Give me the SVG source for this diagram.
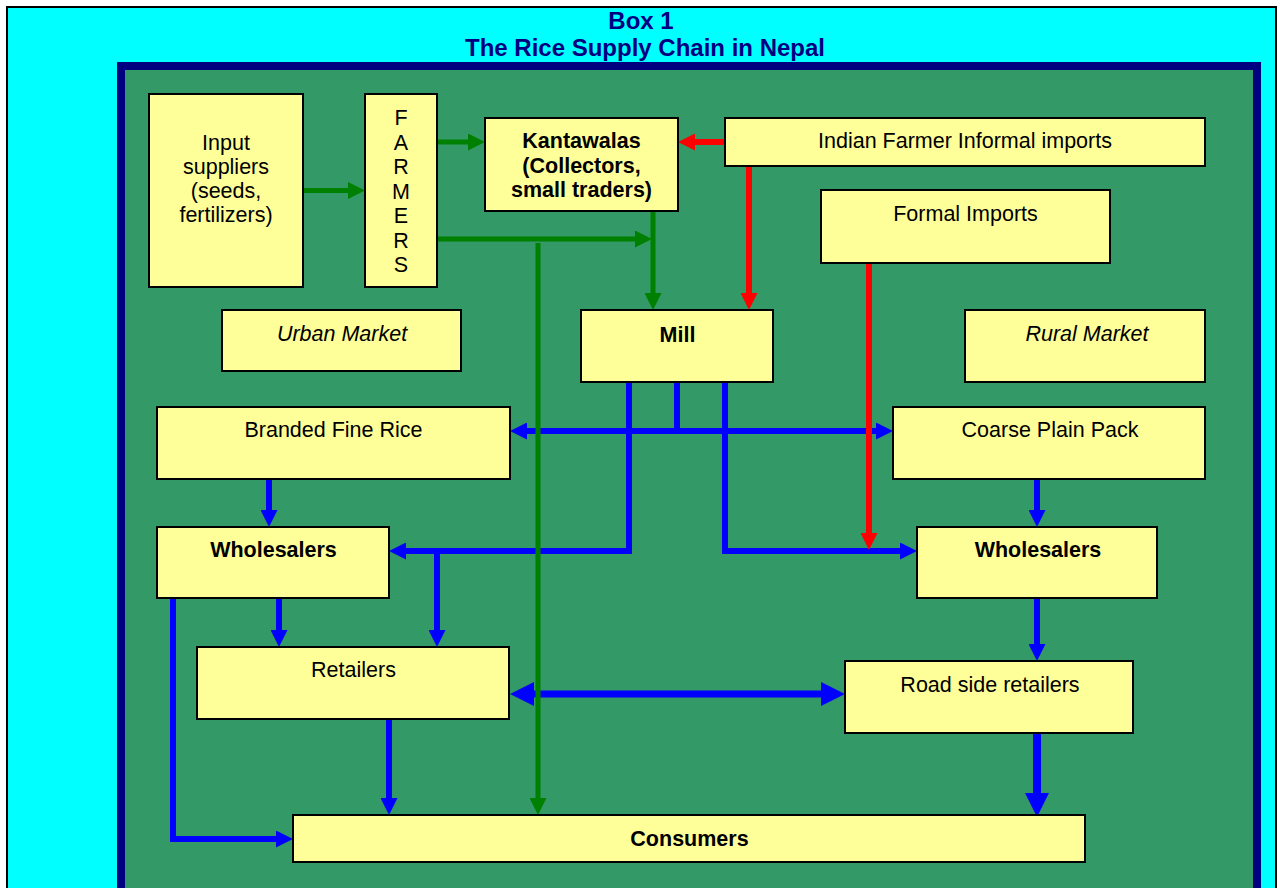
<svg xmlns="http://www.w3.org/2000/svg" width="1278" height="888" viewBox="0 0 1278 888">
<style>
.box{fill:#FFFF99;stroke:#000;stroke-width:2}
.t{font-family:"Liberation Sans",Arial,sans-serif;font-size:21.5px;fill:#000;text-anchor:middle}
.b{font-weight:bold}
.i{font-style:italic}
.title{font-family:"Liberation Sans",Arial,sans-serif;font-size:24px;font-weight:bold;fill:#000080;text-anchor:middle}
.bl{fill:none;stroke:#0000FF;stroke-width:6}
.gr{fill:none;stroke:#008000;stroke-width:5}
.rd{fill:none;stroke:#FF0000;stroke-width:6}
</style>
<defs>
<marker id="ab" viewBox="0 0 17 17" refX="0" refY="8.5" markerWidth="17" markerHeight="17" markerUnits="userSpaceOnUse" orient="auto-start-reverse"><path d="M0,0L17,8.5L0,17z" fill="#0000FF"/></marker>
<marker id="abb" viewBox="0 0 24 24" refX="0" refY="12" markerWidth="24" markerHeight="24" markerUnits="userSpaceOnUse" orient="auto-start-reverse"><path d="M0,0L24,12L0,24z" fill="#0000FF"/></marker>
<marker id="ag" viewBox="0 0 17 17" refX="0" refY="8.5" markerWidth="17" markerHeight="17" markerUnits="userSpaceOnUse" orient="auto-start-reverse"><path d="M0,0L17,8.5L0,17z" fill="#008000"/></marker>
<marker id="ar" viewBox="0 0 17 17" refX="0" refY="8.5" markerWidth="17" markerHeight="17" markerUnits="userSpaceOnUse" orient="auto-start-reverse"><path d="M0,0L17,8.5L0,17z" fill="#FF0000"/></marker>
</defs>
<rect x="0" y="0" width="1278" height="888" fill="#FFFFFF"/>
<rect x="7" y="7" width="1269" height="900" fill="#00FFFF" stroke="#000" stroke-width="2"/>
<text class="title" x="641" y="29">Box 1</text>
<text class="title" x="645" y="56">The Rice Supply Chain in Nepal</text>
<rect x="121" y="66" width="1136" height="900" fill="#339966" stroke="#000080" stroke-width="8"/>

<g id="connectors">
<path class="bl" d="M677,383V431"/>
<path class="bl" d="M527,431H876" marker-start="url(#ab)" marker-end="url(#ab)"/>
<path class="bl" d="M629,383V551H406" marker-end="url(#ab)"/>
<path class="bl" d="M437,551V630" marker-end="url(#ab)"/>
<path class="bl" d="M725,383V551H900" marker-end="url(#ab)"/>
<path class="bl" d="M269,479V510" marker-end="url(#ab)"/>
<path class="bl" d="M1037,479V510" marker-end="url(#ab)"/>
<path class="bl" d="M279,598V630" marker-end="url(#ab)"/>
<path class="bl" d="M173,598V839H276" marker-end="url(#ab)"/>
<path class="bl" d="M389,719V798" marker-end="url(#ab)"/>
<path class="bl" style="stroke-width:7" d="M534,694H821" marker-start="url(#abb)" marker-end="url(#abb)"/>
<path class="bl" d="M1037,598V644" marker-end="url(#ab)"/>
<path class="bl" style="stroke-width:8" d="M1037,733V793" marker-end="url(#abb)"/>
<path class="gr" d="M303,190.5H348" marker-end="url(#ag)"/>
<path class="gr" d="M437,142H468" marker-end="url(#ag)"/>
<path class="gr" d="M437,239H635" marker-end="url(#ag)"/>
<path class="gr" d="M653,211V293" marker-end="url(#ag)"/>
<path class="gr" d="M538,243V798" marker-end="url(#ag)"/>
<path class="rd" d="M725,142H695" marker-end="url(#ar)"/>
<path class="rd" d="M749,166V293" marker-end="url(#ar)"/>
<path class="rd" d="M869,263V533" marker-end="url(#ar)"/>
</g>

<g id="input-suppliers"><rect class="box" x="149" y="94" width="154" height="193"/>
<text class="t" x="226" y="150">Input</text><text class="t" x="226" y="174">suppliers</text><text class="t" x="226" y="198">(seeds,</text><text class="t" x="226" y="222">fertilizers)</text></g>
<g id="farmers"><rect class="box" x="365" y="94" width="72" height="193"/>
<text class="t" x="401" y="125">F</text><text class="t" x="401" y="149.5">A</text><text class="t" x="401" y="174">R</text><text class="t" x="401" y="198.5">M</text><text class="t" x="401" y="223">E</text><text class="t" x="401" y="247.5">R</text><text class="t" x="401" y="272">S</text></g>
<g id="kantawalas"><rect class="box" x="485" y="118" width="193" height="93"/>
<text class="t b" x="581.5" y="148">Kantawalas</text><text class="t b" x="581.5" y="173">(Collectors,</text><text class="t b" x="581.5" y="197">small traders)</text></g>
<g id="indian-imports"><rect class="box" x="725" y="118" width="480" height="48"/>
<text class="t" x="965" y="148">Indian Farmer Informal imports</text></g>
<g id="formal-imports"><rect class="box" x="821" y="190" width="289" height="73"/>
<text class="t" x="965.5" y="221">Formal Imports</text></g>
<g id="urban-market"><rect class="box" x="222" y="310" width="239" height="61"/>
<text class="t i" x="342" y="341">Urban Market</text></g>
<g id="mill"><rect class="box" x="581" y="310" width="192" height="72"/>
<text class="t b" x="677.5" y="342">Mill</text></g>
<g id="rural-market"><rect class="box" x="965" y="310" width="240" height="72"/>
<text class="t i" x="1087" y="341">Rural Market</text></g>
<g id="branded-fine-rice"><rect class="box" x="157" y="407" width="353" height="72"/>
<text class="t" x="333.5" y="437">Branded Fine Rice</text></g>
<g id="coarse-plain-pack"><rect class="box" x="893" y="407" width="312" height="72"/>
<text class="t" x="1050" y="437">Coarse Plain Pack</text></g>
<g id="wholesalers-left"><rect class="box" x="157" y="527" width="232" height="71"/>
<text class="t b" x="273.5" y="557">Wholesalers</text></g>
<g id="wholesalers-right"><rect class="box" x="917" y="527" width="240" height="71"/>
<text class="t b" x="1038" y="557">Wholesalers</text></g>
<g id="retailers"><rect class="box" x="197" y="647" width="312" height="72"/>
<text class="t" x="353.5" y="677">Retailers</text></g>
<g id="road-side-retailers"><rect class="box" x="845" y="661" width="288" height="72"/>
<text class="t" x="990" y="692">Road side retailers</text></g>
<g id="consumers"><rect class="box" x="293" y="815" width="792" height="47"/>
<text class="t b" x="689.5" y="846">Consumers</text></g>
</svg>
